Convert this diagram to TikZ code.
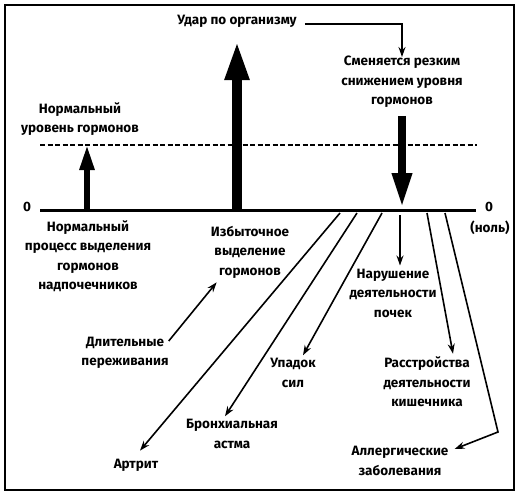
\documentclass[tikz,border=0pt]{standalone}
\usepackage{fontspec}
\setmainfont{Fira Sans}
\usetikzlibrary{arrows.meta}
\begin{document}
\begin{tikzpicture}[x=1pt,y=-1pt,
  lbl/.style={font=\bfseries\fontsize{13.5}{19.5}\selectfont, align=center, inner sep=0pt},
  thinarrow/.style={line width=1.6pt, -{Stealth[length=10pt,width=7pt]}},
  thinline/.style={line width=1.6pt}]
\useasboundingbox (0,0) rectangle (520,496);
\draw[line width=2pt] (5,5) rectangle (514,490);
% levels
\coordinate (zl) at (40,210);
\coordinate (zr) at (476,210);
\draw[line width=3pt] (zl) -- (zr);
\coordinate (dl) at (40,145);
\coordinate (dr) at (477,145);
\draw[line width=1.5pt, dash pattern=on 5pt off 2.5pt] (dl) -- (dr);
\node[lbl] (zeroL) at (27,207) {0};
\node[lbl] (zeroR) at (489,207) {0};
\node[lbl] (nol) at (490,228) {(ноль)};
% texts
\node[lbl] (udar) at (237,21) {Удар по организму};
\node[lbl] (smen) at (402,82) {Сменяется резким\\снижением уровня\\гормонов};
\node[lbl] (normlev) at (80,119) {Нормальный\\уровень гормонов};
\node[lbl] (normproc) at (88,256) {Нормальный\\процесс выделения\\гормонов\\надпочечников};
\node[lbl] (izb) at (250,252) {Избыточное\\выделение\\гормонов};
\node[lbl] (dlit) at (125,353) {Длительные\\переживания};
\node[lbl] (artr) at (136,465) {Артрит};
\node[lbl] (bronh) at (232,434) {Бронхиальная\\астма};
\node[lbl] (upad) at (293,373) {Упадок\\сил};
\node[lbl] (narush) at (393,293) {Нарушение\\деятельности\\почек};
\node[lbl] (rasstr) at (427,382) {Расстройства\\деятельности\\кишечника};
\node[lbl] (allerg) at (400,461) {Аллергические\\заболевания};
% big arrows
\coordinate (a0) at (87,210);
\coordinate (a1) at (87,145);
\draw[line width=5.5pt, -{Triangle[length=25pt,width=14pt]}] (a0) -- (a1);
\coordinate (b0) at (237,210);
\coordinate (b1) at (237,40);
\draw[line width=10pt, -{Triangle[length=40pt,width=22pt]}] (b0) -- (b1);
\coordinate (c1) at (402,209);
\draw[line width=8.5pt, -{Triangle[length=36pt,width=18pt]}] (smen.south -| c1) ++(0,8) -- (c1);
% udar connector
\draw[thinarrow] (udar.east) ++(8,3) -| ([yshift=-1pt]smen.north);
% dlit -> izb
\draw[thinarrow] ([shift={(0,-12)}]dlit.east) -- ([shift={(6,4)}]izb.south west);
% diagonals
\coordinate (s1) at (340,213);
\coordinate (s2) at (357,213);
\coordinate (s3) at (382,213);
\coordinate (s4) at (400,215);
\coordinate (s5) at (427,213);
\coordinate (s6) at (445,213);
\coordinate (k6) at (498,432);
\draw[thinarrow] (s1) -- ([shift={(4,-8)}]artr.north);
\draw[thinarrow] (s2) -- ([shift={(-7,-3)}]bronh.north);
\draw[thinarrow] (s3) -- ([shift={(10,-3)}]upad.north);
\draw[thinarrow] (s4) -- ([yshift=3pt]s4 |- narush.north);
\draw[thinarrow] (s5) -- ([shift={(26,-3)}]rasstr.north);
\draw[thinarrow] (s6) -- (k6) -- ([shift={(6,-12)}]allerg.east);
\end{tikzpicture}
\end{document}
